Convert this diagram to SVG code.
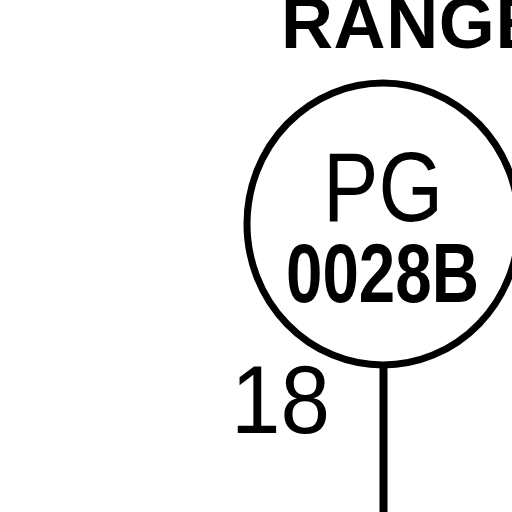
<svg xmlns="http://www.w3.org/2000/svg" width="512" height="512" viewBox="0 0 512 512">
<style>
text{font-family:"Liberation Sans",Arial,sans-serif;fill:#000}
.b{font-weight:bold}
</style>
<rect width="512" height="512" fill="#fff"/>
<text x="281" y="47.5" font-size="72" class="b" letter-spacing="0.6">RANGE</text>
<g id="connectors">
<line x1="383.5" y1="366" x2="383.5" y2="512" stroke="#000" stroke-width="8"/>
</g>
<g id="node-pg">
<ellipse cx="383" cy="224" rx="136" ry="141" fill="none" stroke="#000" stroke-width="7"/>
<text x="323" y="221" font-size="99" textLength="120" lengthAdjust="spacingAndGlyphs">PG</text>
<text x="286" y="302" font-size="84" class="b" textLength="193" lengthAdjust="spacingAndGlyphs">0028B</text>
</g>
<text x="231" y="433" font-size="97" textLength="99" lengthAdjust="spacingAndGlyphs">18</text>
</svg>
